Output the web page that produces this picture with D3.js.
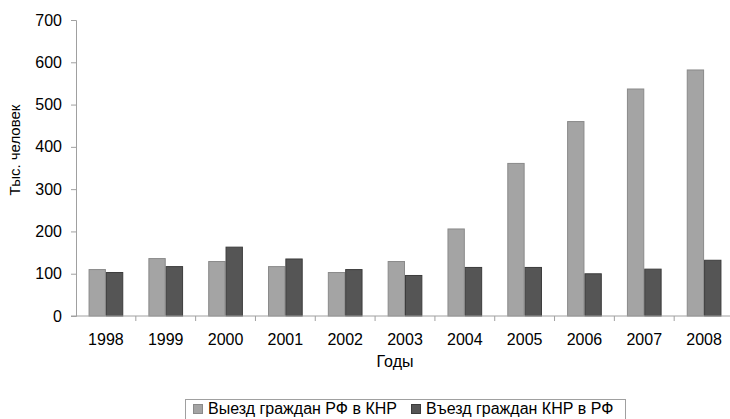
<!DOCTYPE html>
<html>
<head>
<meta charset="utf-8">
<script src="https://cdn.jsdelivr.net/npm/d3@7"></script>
<style>
body { margin: 0; background: #fff; }
text { font-family: "Liberation Sans", Arial, sans-serif; fill: #000; }
</style>
</head>
<body>
<svg></svg>
<script>
var years = ["1998","1999","2000","2001","2002","2003","2004","2005","2006","2007","2008"];
var exitRF = [111, 137, 130, 118, 104, 130, 207, 362, 461, 538, 583];
var entryCN = [104, 118, 164, 136, 111, 97, 116, 116, 101, 112, 133];
var seriesNames = ["Выезд граждан РФ в КНР", "Въезд граждан КНР в РФ"];
var yTicks = [0, 100, 200, 300, 400, 500, 600, 700];

var screen = {width: 730, height: 419};
var margins = {top: 20, right: -4, bottom: 103, left: 76};
var width = screen.width - margins.left - margins.right;
var height = screen.height - margins.top - margins.bottom;

var colors = ["#a4a4a4", "#555555"];
var strokes = ["#8a8a8a", "#3c3c3c"];

var svg = d3.select("svg")
    .attr("width", screen.width)
    .attr("height", screen.height);

var g = svg.append("g")
    .attr("transform", "translate(" + margins.left + "," + margins.top + ")");

var xScale = d3.scaleBand()
    .domain(years)
    .range([0, width])
    .paddingInner(0.42)
    .paddingOuter(0.21);

var sub = d3.scaleBand()
    .domain([0, 1])
    .range([0, xScale.bandwidth()]);

var yScale = d3.scaleLinear()
    .domain([0, 700])
    .range([height, 0]);

// bars
var data = years.map(function(y, i){ return {year: y, vals: [exitRF[i], entryCN[i]]}; });

var groups = g.selectAll(".yr")
    .data(data)
    .enter()
    .append("g")
    .attr("transform", function(d){ return "translate(" + xScale(d.year) + ",0)"; });

groups.selectAll("rect")
    .data(function(d){ return d.vals.map(function(v, k){ return {k: k, v: v}; }); })
    .enter()
    .append("rect")
    .attr("x", function(d){ return sub(d.k) + 0.5; })
    .attr("y", function(d){ return yScale(d.v) + 0.5; })
    .attr("width", sub.bandwidth() - 1)
    .attr("height", function(d){ return height - yScale(d.v) - 0.5; })
    .attr("fill", function(d){ return colors[d.k]; })
    .attr("stroke", function(d){ return strokes[d.k]; })
    .attr("stroke-width", 1);

// y axis
var yAxis = d3.axisLeft(yScale)
    .tickValues(yTicks)
    .tickSize(5)
    .tickPadding(9);

var ya = g.append("g").call(yAxis);
ya.select(".domain").attr("stroke", "#a0a0a0");
ya.selectAll(".tick line").attr("stroke", "#a0a0a0");
ya.selectAll("text").style("font-size", "16px");

// x axis, ticks sit between the categories
var xa = g.append("g")
    .attr("transform", "translate(0," + height + ")");

xa.append("line")
    .attr("x1", -5).attr("x2", width)
    .attr("stroke", "#a0a0a0");

xa.selectAll(".sep")
    .data(years.slice(1))
    .enter()
    .append("line")
    .attr("x1", function(d){ return xScale(d) - xScale.step() * xScale.paddingInner() / 2; })
    .attr("x2", function(d){ return xScale(d) - xScale.step() * xScale.paddingInner() / 2; })
    .attr("y1", 0).attr("y2", 5)
    .attr("stroke", "#a0a0a0");

xa.selectAll(".lbl")
    .data(years)
    .enter()
    .append("text")
    .attr("x", function(d){ return xScale(d) + xScale.bandwidth() / 2; })
    .attr("y", 29)
    .attr("text-anchor", "middle")
    .style("font-size", "16px")
    .text(function(d){ return d; });

// axis titles
svg.append("text")
    .attr("x", 395)
    .attr("y", 367)
    .attr("text-anchor", "middle")
    .style("font-size", "16px")
    .text("Годы");

svg.append("text")
    .attr("transform", "translate(20,150) rotate(-90)")
    .attr("text-anchor", "middle")
    .style("font-size", "15px")
    .text("Тыс. человек");

// legend
var lg = svg.append("g").attr("transform", "translate(185,399)");
lg.append("rect")
    .attr("x", 0.5).attr("y", 0.5)
    .attr("width", 440).attr("height", 30)
    .attr("fill", "#fff")
    .attr("stroke", "#a0a0a0");

var items = lg.selectAll(".item")
    .data(seriesNames)
    .enter()
    .append("g")
    .attr("transform", function(d, i){ return "translate(" + (i === 0 ? 8 : 226) + ",0)"; });

items.append("rect")
    .attr("x", 0.5).attr("y", 5.5)
    .attr("width", 9).attr("height", 9)
    .attr("fill", function(d, i){ return colors[i]; })
    .attr("stroke", function(d, i){ return strokes[i]; });

items.append("text")
    .attr("x", 15)
    .attr("y", 15)
    .style("font-size", "16px")
    .text(function(d){ return d; });
</script>
</body>
</html>
